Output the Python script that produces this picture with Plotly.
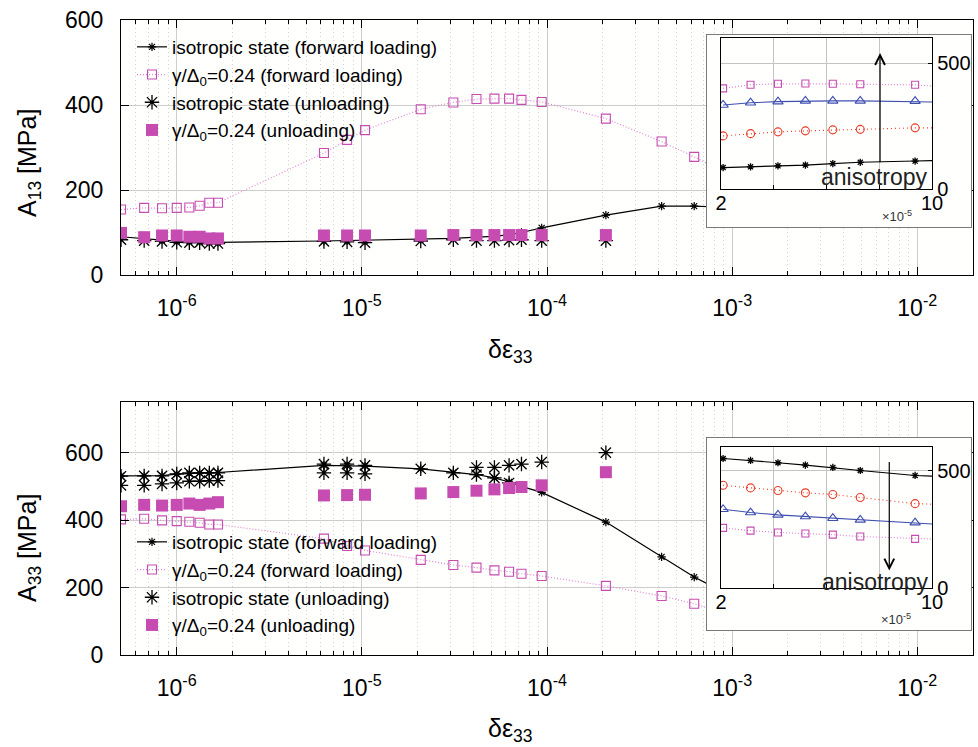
import math
import plotly.graph_objects as go

W, H = 978, 747

# ---------------- data ----------------
x_forward = [5.0e-7, 6.67e-7, 8.33e-7, 1.0e-6, 1.17e-6, 1.33e-6, 1.5e-6, 1.67e-6,
             6.24e-6, 8.32e-6, 1.04e-5, 2.08e-5, 3.12e-5, 4.16e-5, 5.2e-5, 6.24e-5,
             7.28e-5, 9.36e-5, 2.08e-4, 4.16e-4, 6.24e-4, 8.32e-4]
x_unload = [5.0e-7, 6.67e-7, 8.33e-7, 1.0e-6, 1.17e-6, 1.33e-6, 1.5e-6, 1.67e-6,
            6.24e-6, 8.32e-6, 1.04e-5, 2.08e-5, 3.12e-5, 4.16e-5, 5.2e-5, 6.24e-5,
            7.28e-5, 9.36e-5, 2.08e-4]
x_unload_b = [5.0e-7, 6.67e-7, 8.33e-7, 1.0e-6, 1.17e-6, 1.33e-6, 1.5e-6, 1.67e-6,
              6.24e-6, 8.32e-6, 1.04e-5, 4.16e-5, 5.2e-5, 6.24e-5]

# A13
a13_iso_fwd = [90, 85, 82, 80, 79, 78, 77, 77, 80, 81, 81, 84, 86, 89, 91, 95,
               100, 111, 141, 162, 162, 160]
a13_ani_fwd = [154, 158, 157, 158, 159, 163, 170, 170, 287, 318, 341, 390, 406, 414,
               415, 415, 412, 407, 368, 314, 278, 250]
a13_iso_unl = [83, 81, 79, 77, 76, 76, 74, 74, 79, 78, 76, 80, 83, 81, 81, 82, 83, 81, 81]
a13_ani_unl = [99, 89, 93, 93, 90, 90, 86, 86, 93, 93, 93, 93, 94, 94, 94, 94, 94, 94, 94]

# A33
a33_iso_fwd = [531, 531, 532, 536, 538, 540, 540, 541, 562, 561, 560, 552, 541, 535,
               525, 513, 500, 482, 394, 291, 231, 196]
a33_ani_fwd = [402, 404, 399, 397, 395, 392, 387, 387, 345, 323, 310, 282, 267, 259,
               251, 247, 241, 234, 205, 175, 152, 130]
a33_iso_unl = [530, 531, 531, 537, 540, 540, 540, 540, 566, 566, 562, 552, 540, 556,
               556, 562, 566, 572, 600]
a33_iso_unl_b = [503, 503, 507, 510, 515, 515, 517, 517, 540, 540, 537, 535, 525, 510]
a33_ani_unl = [441, 445, 443, 445, 449, 445, 449, 453, 473, 474, 475, 479, 483, 487,
               491, 495, 498, 503, 542]

# insets (x in units of 1e-5)
x_inset = [2.08, 3.12, 4.16, 5.2, 6.24, 7.28, 9.36, 10.4]
in13_square = [400, 414, 418, 419, 418, 416, 414, 406]
in13_triangle = [334, 343, 347, 350, 350, 350, 349, 345]
in13_circle = [211, 220, 227, 231, 235, 237, 243, 243]
in13_star = [85, 88, 92, 95, 101, 106, 111, 114]
in33_star = [551, 543, 533, 523, 513, 500, 479, 474]
in33_circle = [437, 426, 415, 405, 398, 385, 359, 355]
in33_triangle = [335, 321, 311, 304, 297, 290, 278, 270]
in33_square = [256, 244, 236, 232, 227, 219, 209, 207]

decade_vals = [1e-6, 1e-5, 1e-4, 1e-3, 1e-2]
decade_text = ["10<sup>-6</sup>", "10<sup>-5</sup>", "10<sup>-4</sup>",
               "10<sup>-3</sup>", "10<sup>-2</sup>"]
legend_names = ["isotropic state (forward loading)",
                "γ/Δ<sub>0</sub>=0.24 (forward loading)",
                "isotropic state (unloading)",
                "γ/Δ<sub>0</sub>=0.24 (unloading)"]

# ---------------- styling ----------------
FONT = "Liberation Sans, Arial, Helvetica, sans-serif"
MAG = "#C64CB2"
MAG_LINE = "#DE86D4"
RED = "#EA3A26"
BLUE = "#3F4FB0"

minor_vals = []
for e in range(-7, -1):
    for k in range(2, 10):
        minor_vals.append(k * 10 ** e)


def px_x(p):
    return p / W


def px_y(p):
    return 1 - p / H


fig = go.Figure()


def add_main(xa, ya, leg, iso_f, ani_f, iso_u_x, iso_u, ani_u):
    fig.add_trace(go.Scatter(
        x=x_forward, y=iso_f, xaxis=xa, yaxis=ya, legend=leg, name=legend_names[0],
        mode="lines+markers", line=dict(color="black", width=1.2),
        marker=dict(symbol="asterisk-open", size=7, color="black",
                    line=dict(color="black", width=1.2))))
    fig.add_trace(go.Scatter(
        x=x_forward, y=ani_f, xaxis=xa, yaxis=ya, legend=leg, name=legend_names[1],
        mode="lines+markers", line=dict(color=MAG_LINE, width=1.2, dash="1px,2px"),
        marker=dict(symbol="square-open", size=9, color=MAG,
                    line=dict(color=MAG, width=1.1))))
    fig.add_trace(go.Scatter(
        x=iso_u_x, y=iso_u, xaxis=xa, yaxis=ya, legend=leg, name=legend_names[2],
        mode="markers",
        marker=dict(symbol="asterisk-open", size=12, color="black",
                    line=dict(color="black", width=1.3))))
    fig.add_trace(go.Scatter(
        x=x_unload, y=ani_u, xaxis=xa, yaxis=ya, legend=leg, name=legend_names[3],
        mode="markers",
        marker=dict(symbol="square", size=12, color=MAG, line=dict(width=0))))


add_main("x", "y", "legend", a13_iso_fwd, a13_ani_fwd, x_unload, a13_iso_unl, a13_ani_unl)
add_main("x2", "y2", "legend2", a33_iso_fwd, a33_ani_fwd,
         x_unload + x_unload_b, a33_iso_unl + a33_iso_unl_b, a33_ani_unl)

# frames for insets (empty subplots)
for xa, ya in (("x3", "y3"), ("x5", "y5")):
    fig.add_trace(go.Scatter(x=[None], y=[None], xaxis=xa, yaxis=ya,
                             showlegend=False, hoverinfo="skip"))


def add_inset(xa, ya, star, circle, triangle, square):
    fig.add_trace(go.Scatter(
        x=x_inset, y=square, xaxis=xa, yaxis=ya, showlegend=False, mode="lines+markers",
        line=dict(color=MAG_LINE, width=1.2, dash="1px,2px"),
        marker=dict(symbol="square-open", size=7, color=MAG, line=dict(color=MAG, width=1.1))))
    fig.add_trace(go.Scatter(
        x=x_inset, y=triangle, xaxis=xa, yaxis=ya, showlegend=False, mode="lines+markers",
        line=dict(color=BLUE, width=1.1),
        marker=dict(symbol="triangle-up-open", size=9, color=BLUE,
                    line=dict(color=BLUE, width=1.1))))
    fig.add_trace(go.Scatter(
        x=x_inset, y=circle, xaxis=xa, yaxis=ya, showlegend=False, mode="lines+markers",
        line=dict(color=RED, width=1.1, dash="1px,3px"),
        marker=dict(symbol="circle-open", size=8, color=RED, line=dict(color=RED, width=1.1))))
    fig.add_trace(go.Scatter(
        x=x_inset, y=star, xaxis=xa, yaxis=ya, showlegend=False, mode="lines+markers",
        line=dict(color="black", width=1.1),
        marker=dict(symbol="asterisk-open", size=6, color="black",
                    line=dict(color="black", width=1.3))))


add_inset("x4", "y4", in13_star, in13_circle, in13_triangle, in13_square)
add_inset("x6", "y6", in33_star, in33_circle, in33_triangle, in33_square)

# ---------------- axes ----------------
tickfont = dict(family=FONT, size=23, color="black")
xdom = [px_x(121), px_x(973)]


def main_x(anchor):
    return dict(type="log", range=[math.log10(5e-7), math.log10(2e-2)], domain=xdom,
                anchor=anchor, tickmode="array", tickvals=decade_vals, ticktext=decade_text,
                ticks="inside", ticklen=8, tickwidth=1, tickcolor="black",
                showline=True, linecolor="black", linewidth=1.3, mirror="ticks",
                showgrid=True, gridcolor="#cdcdcd", gridwidth=1, zeroline=False,
                minor=dict(tickmode="array", tickvals=minor_vals, ticks="inside", ticklen=4,
                           tickcolor="black", showgrid=True, gridcolor="#d2d2d2",
                           griddash="1px,3px", gridwidth=1),
                tickfont=tickfont, ticklabelstandoff=12, fixedrange=True, automargin=False)


def main_y(anchor, dom, rng):
    return dict(range=rng, domain=dom, anchor=anchor, tickmode="array",
                tickvals=[0, 200, 400, 600], ticks="inside", ticklen=8, tickcolor="black",
                showline=True, linecolor="black", linewidth=1.3, mirror="ticks",
                showgrid=True, gridcolor="#cdcdcd", zeroline=False, tickfont=tickfont,
                ticklabelstandoff=12, fixedrange=True, automargin=False)


def frame_ax(anchor, dom):
    return dict(domain=dom, anchor=anchor, range=[0, 1], showline=True, linecolor="#7a7a7a",
                linewidth=1.3, mirror=True, showgrid=False, zeroline=False, ticks="",
                showticklabels=False, fixedrange=True, automargin=False)


inset_font = dict(family=FONT, size=20, color="black")
ixdom = [px_x(721), px_x(932)]


def inset_x(anchor):
    return dict(domain=ixdom, anchor=anchor, range=[2, 10], tickmode="array",
                tickvals=[2, 4, 6, 8, 10], ticktext=["2", "", "", "", "10"],
                ticks="inside", ticklen=4, tickcolor="black", showline=True,
                linecolor="black", linewidth=1.3, mirror=True, showgrid=True,
                gridcolor="#c4c4c4", zeroline=False, tickfont=inset_font,
                ticklabelstandoff=-4, fixedrange=True, automargin=False)


def inset_y(anchor, dom):
    return dict(domain=dom, anchor=anchor, range=[0, 600], side="right", tickmode="array",
                tickvals=[0, 500], ticktext=["0", "500"], ticks="inside", ticklen=4,
                tickcolor="black", showline=True, linecolor="black", linewidth=1.3,
                mirror=True, showgrid=True, gridcolor="#c4c4c4", zeroline=False,
                tickfont=inset_font, ticklabelstandoff=0, fixedrange=True, automargin=False)


fig.update_layout(
    width=W, height=H, margin=dict(l=0, r=0, t=0, b=0, autoexpand=False),
    paper_bgcolor="#ffffff", plot_bgcolor="#fffffe",
    font=dict(family=FONT, color="black"),
    xaxis=main_x("y"),
    yaxis=main_y("x", [px_y(275), px_y(20)], [0, 600]),
    xaxis2=main_x("y2"),
    yaxis2=main_y("x2", [px_y(655), px_y(402)], [0, 750]),
    xaxis3=frame_ax("y3", [px_x(707), px_x(971)]),
    yaxis3=frame_ax("x3", [px_y(227), px_y(35)]),
    xaxis4=inset_x("y4"),
    yaxis4=inset_y("x4", [px_y(189), px_y(38)]),
    xaxis5=frame_ax("y5", [px_x(707), px_x(971)]),
    yaxis5=frame_ax("x5", [px_y(630), px_y(438)]),
    xaxis6=inset_x("y6"),
    yaxis6=inset_y("x6", [px_y(588), px_y(447)]),
    legend=dict(x=px_x(132), y=px_y(28), xanchor="left", yanchor="top",
                bgcolor="rgba(0,0,0,0)", borderwidth=0, tracegroupgap=0,
                font=dict(family=FONT, size=19, color="black")),
    legend2=dict(x=px_x(132), y=px_y(523), xanchor="left", yanchor="top",
                 bgcolor="rgba(0,0,0,0)", borderwidth=0, tracegroupgap=0,
                 font=dict(family=FONT, size=19, color="black")),
    showlegend=True,
)


def note(text, xp, yp, font, angle=0):
    return dict(text=text, x=px_x(xp), y=px_y(yp), xref="paper", yref="paper",
                xanchor="center", yanchor="middle", textangle=angle,
                showarrow=False, font=font)


ann = []
title_font = dict(family=FONT, size=25, color="black")
ann.append(note("A<sub>13</sub> [MPa]", 29, 163, title_font, -90))
ann.append(note("A<sub>33</sub> [MPa]", 29, 548, title_font, -90))
ann.append(note("δε<sub>33</sub>", 510, 351, title_font))
ann.append(note("δε<sub>33</sub>", 510, 730, title_font))
# inset decorations
small = dict(family=FONT, size=13, color="#333333")
ann.append(note("×10<sup>-5</sup>", 897, 216, small))
ann.append(note("×10<sup>-5</sup>", 896, 619, small))
aniso_font = dict(family=FONT, size=23, color="#222222")
ann.append(note("anisotropy", 874, 177, aniso_font))
ann.append(note("anisotropy", 875, 582, aniso_font))
ann.append(dict(text="", x=8.03, y=540, ax=8.03, ay=100, xref="x4", yref="y4",
                axref="x4", ayref="y4", showarrow=True, arrowhead=5, arrowsize=1.6,
                arrowwidth=1.2, arrowcolor="black"))
ann.append(dict(text="", x=8.38, y=74, ax=8.38, ay=543, xref="x6", yref="y6",
                axref="x6", ayref="y6", showarrow=True, arrowhead=5, arrowsize=1.6,
                arrowwidth=1.2, arrowcolor="black"))
fig.update_layout(annotations=ann)

fig.write_html("out.html")
